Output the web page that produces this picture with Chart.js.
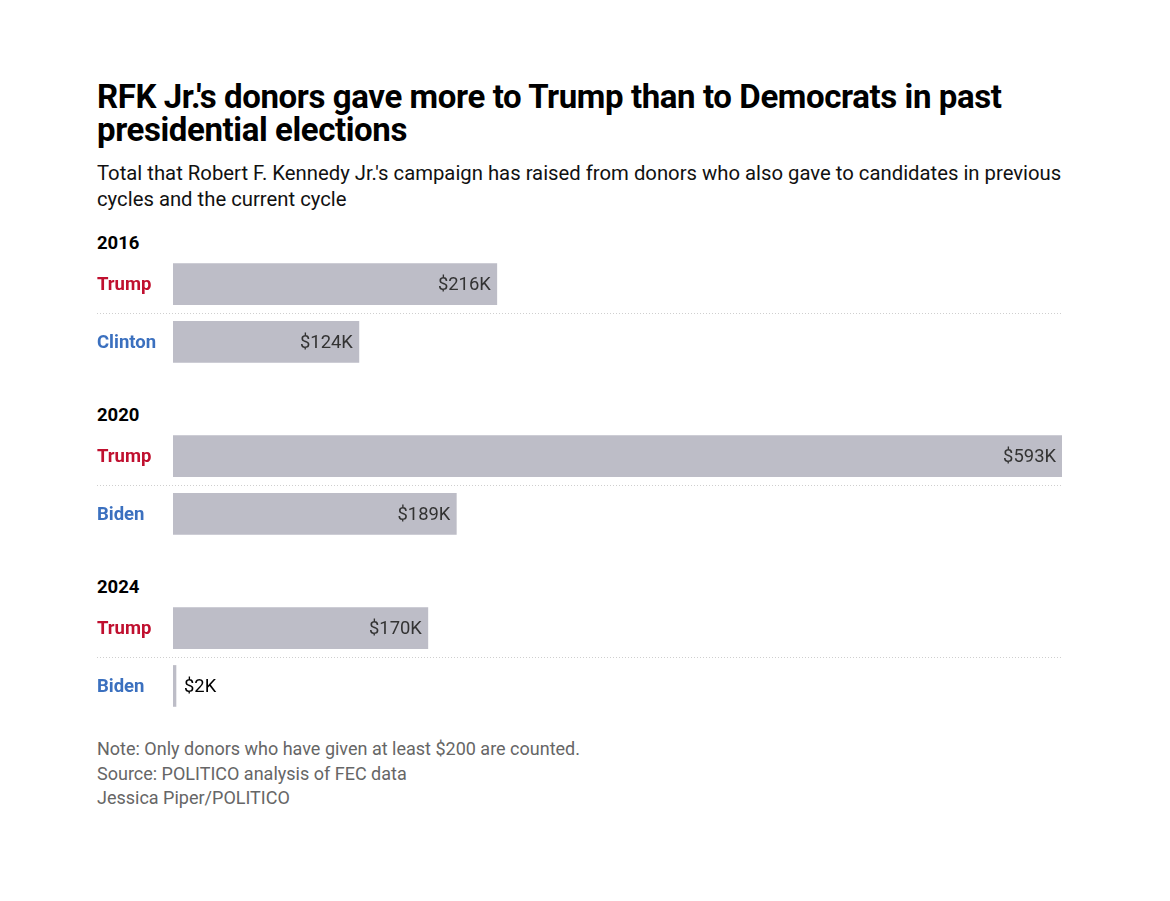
<!DOCTYPE html>
<html>
<head>
<meta charset="utf-8">
<script src="https://cdn.jsdelivr.net/npm/chart.js@4"></script>
<style>
  html, body { margin: 0; padding: 0; background: #fff; }
  body { width: 1170px; height: 901px; position: relative; font-family: Roboto, "Noto Sans", sans-serif; overflow: hidden; }
  .abs { position: absolute; left: 97px; white-space: nowrap; }
  #title { top: 80px; font-size: 33px; font-weight: 700; line-height: 33px; color: #000; letter-spacing: -0.4px; }
  #subtitle { top: 160px; font-size: 20.3px; line-height: 26px; color: #111; }
  .year { font-size: 18.5px; font-weight: 700; color: #000; line-height: 20px; }
  .chartbox { position: absolute; left: 97px; width: 965px; height: 138px; }
  #foot { top: 737px; font-size: 18px; line-height: 24.5px; color: #666; }
</style>
</head>
<body>
<div id="title" class="abs">RFK Jr.'s donors gave more to Trump than to Democrats in past<br>presidential elections</div>
<div id="subtitle" class="abs">Total that Robert F. Kennedy Jr.'s campaign has raised from donors who also gave to candidates in previous<br>cycles and the current cycle</div>

<div class="abs year" style="top:233px">2016</div>
<div class="chartbox" style="top:244px"><canvas id="c0"></canvas></div>
<div class="abs year" style="top:405px">2020</div>
<div class="chartbox" style="top:416px"><canvas id="c1"></canvas></div>
<div class="abs year" style="top:577px">2024</div>
<div class="chartbox" style="top:588px"><canvas id="c2"></canvas></div>

<div id="foot" class="abs">Note: Only donors who have given at least $200 are counted.<br>Source: POLITICO analysis of FEC data<br>Jessica Piper/POLITICO</div>

<script>
// Data (thousands of dollars)
const years = ['2016', '2020', '2024'];
const repNames = ['Trump', 'Trump', 'Trump'];
const demNames = ['Clinton', 'Biden', 'Biden'];
const repValues = [216, 593, 170];
const demValues = [124, 189, 2];
const maxValue = 593;

const BAR = '#bdbdc7';
const RED = '#c0102f';
const BLUE = '#3b70bf';

const valueLabels = {
  id: 'valueLabels',
  afterDatasetsDraw(chart) {
    const ctx = chart.ctx;
    const meta = chart.getDatasetMeta(0);
    const data = chart.data.datasets[0].data;
    ctx.save();
    ctx.font = '18.4px Roboto, "Noto Sans", sans-serif';
    ctx.textBaseline = 'middle';
    meta.data.forEach((bar, i) => {
      const w = bar.x - bar.base;
      const txt = '$' + data[i] + 'K';
      if (w > 70) {
        ctx.fillStyle = '#333';
        ctx.textAlign = 'right';
        ctx.fillText(txt, bar.x - 6, bar.y + 1);
      } else {
        ctx.fillStyle = '#000';
        ctx.textAlign = 'left';
        ctx.fillText(txt, bar.x + 8, bar.y + 1);
      }
    });
    ctx.restore();
  }
};

const separator = {
  id: 'separator',
  beforeDatasetsDraw(chart) {
    const ctx = chart.ctx;
    const y = chart.scales.y;
    const py = Math.round((y.getPixelForValue(0) + y.getPixelForValue(1)) / 2) + 0.5;
    ctx.save();
    ctx.strokeStyle = '#cfcfcf';
    ctx.lineWidth = 1;
    ctx.setLineDash([1, 2]);
    ctx.beginPath();
    ctx.moveTo(0, py);
    ctx.lineTo(chart.chartArea.right, py);
    ctx.stroke();
    ctx.restore();
  }
};

years.forEach((yr, g) => {
  const labels = [repNames[g], demNames[g]];
  new Chart(document.getElementById('c' + g), {
    type: 'bar',
    data: {
      labels: labels,
      datasets: [{
        data: [repValues[g], demValues[g]],
        backgroundColor: BAR,
        barThickness: 41,
        borderWidth: 0
      }]
    },
    options: {
      indexAxis: 'y',
      responsive: true,
      maintainAspectRatio: false,
      animation: false,
      layout: { padding: 0 },
      plugins: { legend: { display: false }, tooltip: { enabled: false } },
      scales: {
        x: { display: false, min: 0, max: maxValue },
        y: {
          offset: true,
          grid: { display: false, drawTicks: false },
          border: { display: false },
          afterFit(axis) { axis.width = 76; },
          ticks: {
            crossAlign: 'far',
            padding: 0,
            labelOffset: 1.5,
            font: { family: 'Roboto, "Noto Sans", sans-serif', size: 18.5, weight: 'bold' },
            color: (c) => c.index === 0 ? RED : BLUE
          }
        }
      }
    },
    plugins: [separator, valueLabels]
  });
});
</script>
</body>
</html>
